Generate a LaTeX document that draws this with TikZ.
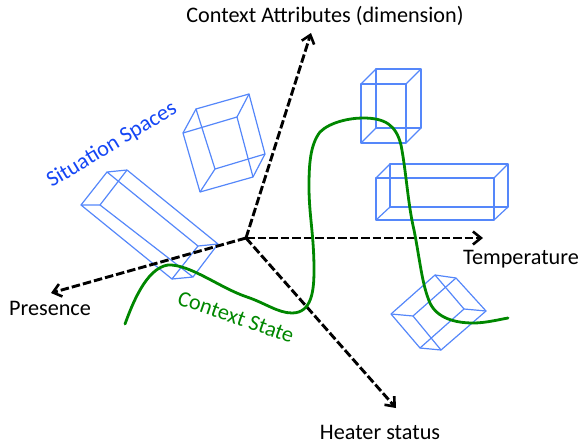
\documentclass[tikz,border=0pt]{standalone}
\usepackage{fontspec}
\setmainfont{Carlito}
\usetikzlibrary{arrows.meta}
\definecolor{spaceline}{RGB}{85,135,250}
\definecolor{spacetext}{RGB}{20,70,245}
\definecolor{stategreen}{RGB}{0,135,0}
\newcommand{\cuboid}[8]{%
  \draw[spacebox] #1 -- #2 -- #3 -- #4 -- cycle;
  \draw[spacebox] #5 -- #6 -- #7 -- #8 -- cycle;
  \draw[spacebox] #1 -- #5  #2 -- #6  #3 -- #7  #4 -- #8;
}
\begin{document}
\begin{tikzpicture}[x=1pt,y=-1pt]
      \tikzstyle{spacebox}=[draw=spaceline, line width=1.2pt, line join=round]
      \tikzstyle{axis}=[line width=2.9pt, dash pattern=on 8.5pt off 3pt, -{Straight Barb[length=8pt,width=13pt,line width=2.6pt]}]
      \tikzstyle{lbl}=[inner sep=0pt, font=\fontsize{22.2}{22}\selectfont, text=black]
      \tikzstyle{state}=[draw=stategreen, line width=2.8pt, line cap=round]

      \useasboundingbox (0,0) rectangle (581,445);

      % situation spaces
      \cuboid{(183,133)}{(237,117)}{(253,177)}{(200,192)}{(196,109)}{(249,94)}{(265,154)}{(215,169)}
      \cuboid{(81,205)}{(100,205)}{(193,277)}{(172,279)}{(107,172)}{(127,170)}{(218,244)}{(198,246)}
      \cuboid{(361,84)}{(406,84)}{(406,143)}{(361,143)}{(376,69)}{(421,69)}{(421,128)}{(376,128)}
      \cuboid{(376,178)}{(494,178)}{(494,220)}{(376,220)}{(390,164)}{(508,164)}{(508,207)}{(390,207)}
      \cuboid{(391,314)}{(435,275)}{(464,309)}{(420,348)}{(413,316)}{(456,278)}{(486,311)}{(441,350)}

      % axes
      \coordinate (origin) at (246,238);
      \node[lbl] (attr) at (325,16) {Context Attributes (dimension)};
      \node[lbl] (temp) at (521,259) {Temperature};
      \node[lbl] (pres) at (50,308) {Presence};
      \node[lbl] (heat) at (380,432) {Heater status};
      \coordinate (attrEnd) at (311,33);
      \coordinate (tempEnd) at (483,238);
      \coordinate (presEnd) at (51,293);
      \coordinate (heatEnd) at (396,408);

      \path (origin) edge [axis] (attrEnd)
            (origin) edge [axis] (tempEnd)
            (origin) edge [axis] (presEnd)
            (origin) edge [axis] (heatEnd);

      % context state
      \draw[state] (125,324) .. controls (132,305) and (146,268) .. (168,265)
            .. controls (190,264) and (220,288) .. (247,297)
            .. controls (265,303) and (278,313) .. (292,313)
            .. controls (312,313) and (314,290) .. (314,270)
            .. controls (314,235) and (309,215) .. (309,187)
            .. controls (309,165) and (310,145) .. (320,132)
            .. controls (330,122) and (350,118) .. (363,118)
            .. controls (385,118) and (396,125) .. (401,145)
            .. controls (406,170) and (408,205) .. (414,230)
            .. controls (420,260) and (422,285) .. (430,303)
            .. controls (437,318) and (455,323) .. (473,323)
            .. controls (485,323) and (497,320) .. (508,318);

      \node[lbl, text=spacetext, rotate=31] (spaces) at (112,145) {Situation Spaces};
      \node[lbl, text=stategreen, rotate=-19] (ctx) at (236,317) {Context State};
\end{tikzpicture}
\end{document}
